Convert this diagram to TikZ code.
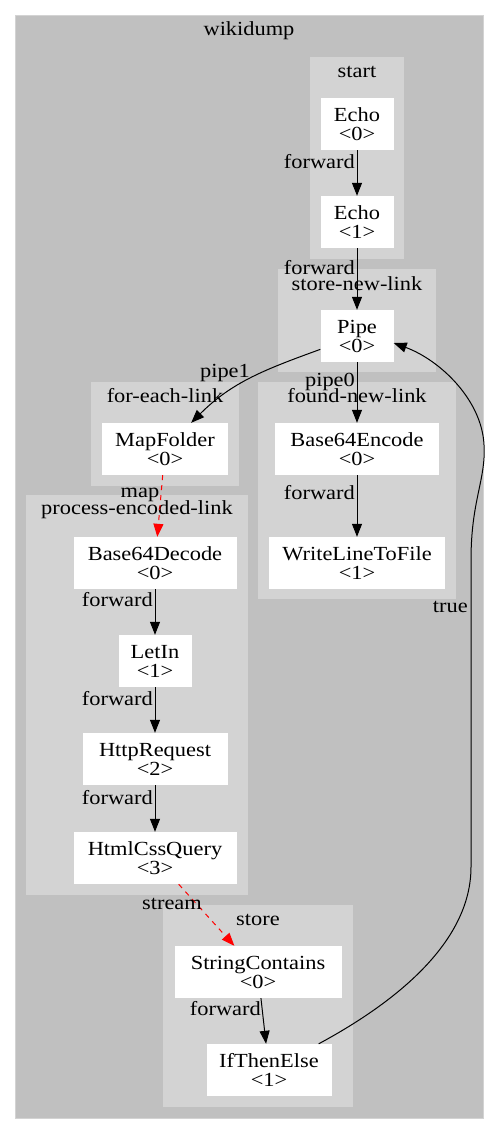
\documentclass[tikz,border=0pt]{standalone}
\usepackage{fontspec}
\setmainfont{Liberation Serif}[FakeStretch=1.12]
\usetikzlibrary{arrows.meta, positioning}
\definecolor{OuterColor}{RGB}{192,192,192}
\definecolor{ClusterColor}{RGB}{211,211,211}
\definecolor{StreamColor}{RGB}{255,0,0}
\newcommand{\gvfont}{\fontsize{20}{19}\selectfont}
\tikzstyle{op} = [rectangle, fill=white, minimum height=52pt, inner sep=0pt, align=center, font=\gvfont]
\tikzstyle{cluster} = [fill=ClusterColor]
\tikzstyle{title} = [inner sep=0pt, font=\gvfont]
\tikzstyle{lbl} = [inner sep=1pt, font=\gvfont]
\tikzstyle{arrow} = [line width=1pt, black, -{Triangle[length=13pt,width=10pt]}]
\tikzstyle{stream} = [arrow, StreamColor, dash pattern=on 5pt off 5pt]

\begin{document}
\begin{tikzpicture}[x=1pt, y=-1pt]
    \useasboundingbox (0,0) rectangle (499,1133);
    % Clusters
    \filldraw[fill=OuterColor, draw=ClusterColor] (15,15) rectangle (483,1118);
    \fill[cluster] (310,57) rectangle (404,259);
    \fill[cluster] (278,269) rectangle (436,372);
    \fill[cluster] (91,382) rectangle (239,486);
    \fill[cluster] (258,382) rectangle (456,599);
    \fill[cluster] (26,495) rectangle (248,895);
    \fill[cluster] (163,905) rectangle (353,1107);
    \node[title] (tWikidump) at (249,31) {wikidump};
    \node[title] (tStart) at (357,72) {start};
    \node[title] (tStoreNewLink) at (357,284) {store-new-link};
    \node[title] (tForEachLink) at (165,396) {for-each-link};
    \node[title] (tFoundNewLink) at (357,396) {found-new-link};
    \node[title] (tProcessEncodedLink) at (137,510) {process-encoded-link};
    \node[title] (tStore) at (258,920) {store};

    % Operations
    \node[op, minimum width=73pt] (echoA) at (357,124) {Echo\\<0>};
    \node[op, minimum width=73pt] (echoB) at (357,222) {Echo\\<1>};
    \node[op, minimum width=73pt] (pipe) at (357,336) {Pipe\\<0>};
    \node[op, minimum width=126pt] (mapFolder) at (165,449) {MapFolder\\<0>};
    \node[op, minimum width=164pt] (encode) at (357,449) {Base64Encode\\<0>};
    \node[op, minimum width=176pt] (writeLine) at (357,563) {WriteLineToFile\\<1>};
    \node[op, minimum width=163pt] (decode) at (155,563) {Base64Decode\\<0>};
    \node[op, minimum width=73pt] (letIn) at (155,661) {LetIn\\<1>};
    \node[op, minimum width=145pt] (httpRequest) at (155,759) {HttpRequest\\<2>};
    \node[op, minimum width=163pt] (cssQuery) at (155,858) {HtmlCssQuery\\<3>};
    \node[op, minimum width=167pt] (contains) at (258,972) {StringContains\\<0>};
    \node[op, minimum width=125pt] (ifThenElse) at (269,1070) {IfThenElse\\<1>};

    % Connectors
    \draw[arrow] (echoA) -- (echoB);
    \draw[arrow] (echoB) -- (pipe);
    \draw[arrow] (pipe) to[out=200, in=45] (mapFolder);
    \draw[arrow] (pipe) -- (encode);
    \draw[arrow] (encode) -- (writeLine);
    \draw[stream] (mapFolder) -- (decode);
    \draw[arrow] (decode) -- (letIn);
    \draw[arrow] (letIn) -- (httpRequest);
    \draw[arrow] (httpRequest) -- (cssQuery);
    \draw[stream] (cssQuery) -- (contains);
    \draw[arrow] (contains) -- (ifThenElse);
    \draw[arrow] ([xshift=-13pt]ifThenElse.north east) .. controls (400,1000) and (471,940) .. (471,867)
        -- (471,560) .. controls (471,500) and (486,480) .. (484,445)
        .. controls (482,400) and (440,360) .. ([yshift=-7pt]pipe.east);

    % Connector labels
    \node[lbl, anchor=east] (lEchoA) at (356,162) {forward};
    \node[lbl, anchor=east] (lEchoB) at (356,268) {forward};
    \node[lbl] (lPipeOne) at (225,373) {pipe1};
    \node[lbl] (lPipeZero) at (330,382) {pipe0};
    \node[lbl, anchor=east] (lEncode) at (356,493) {forward};
    \node[lbl] (lMap) at (140,495) {map};
    \node[lbl, anchor=east] (lDecode) at (154,600) {forward};
    \node[lbl, anchor=east] (lLetIn) at (154,699) {forward};
    \node[lbl, anchor=east] (lHttp) at (154,798) {forward};
    \node[lbl] (lStream) at (172,904) {stream};
    \node[lbl, anchor=east] (lContains) at (262,1009) {forward};
    \node[lbl, anchor=east] (lTrue) at (469,607) {true};
\end{tikzpicture}
\end{document}
